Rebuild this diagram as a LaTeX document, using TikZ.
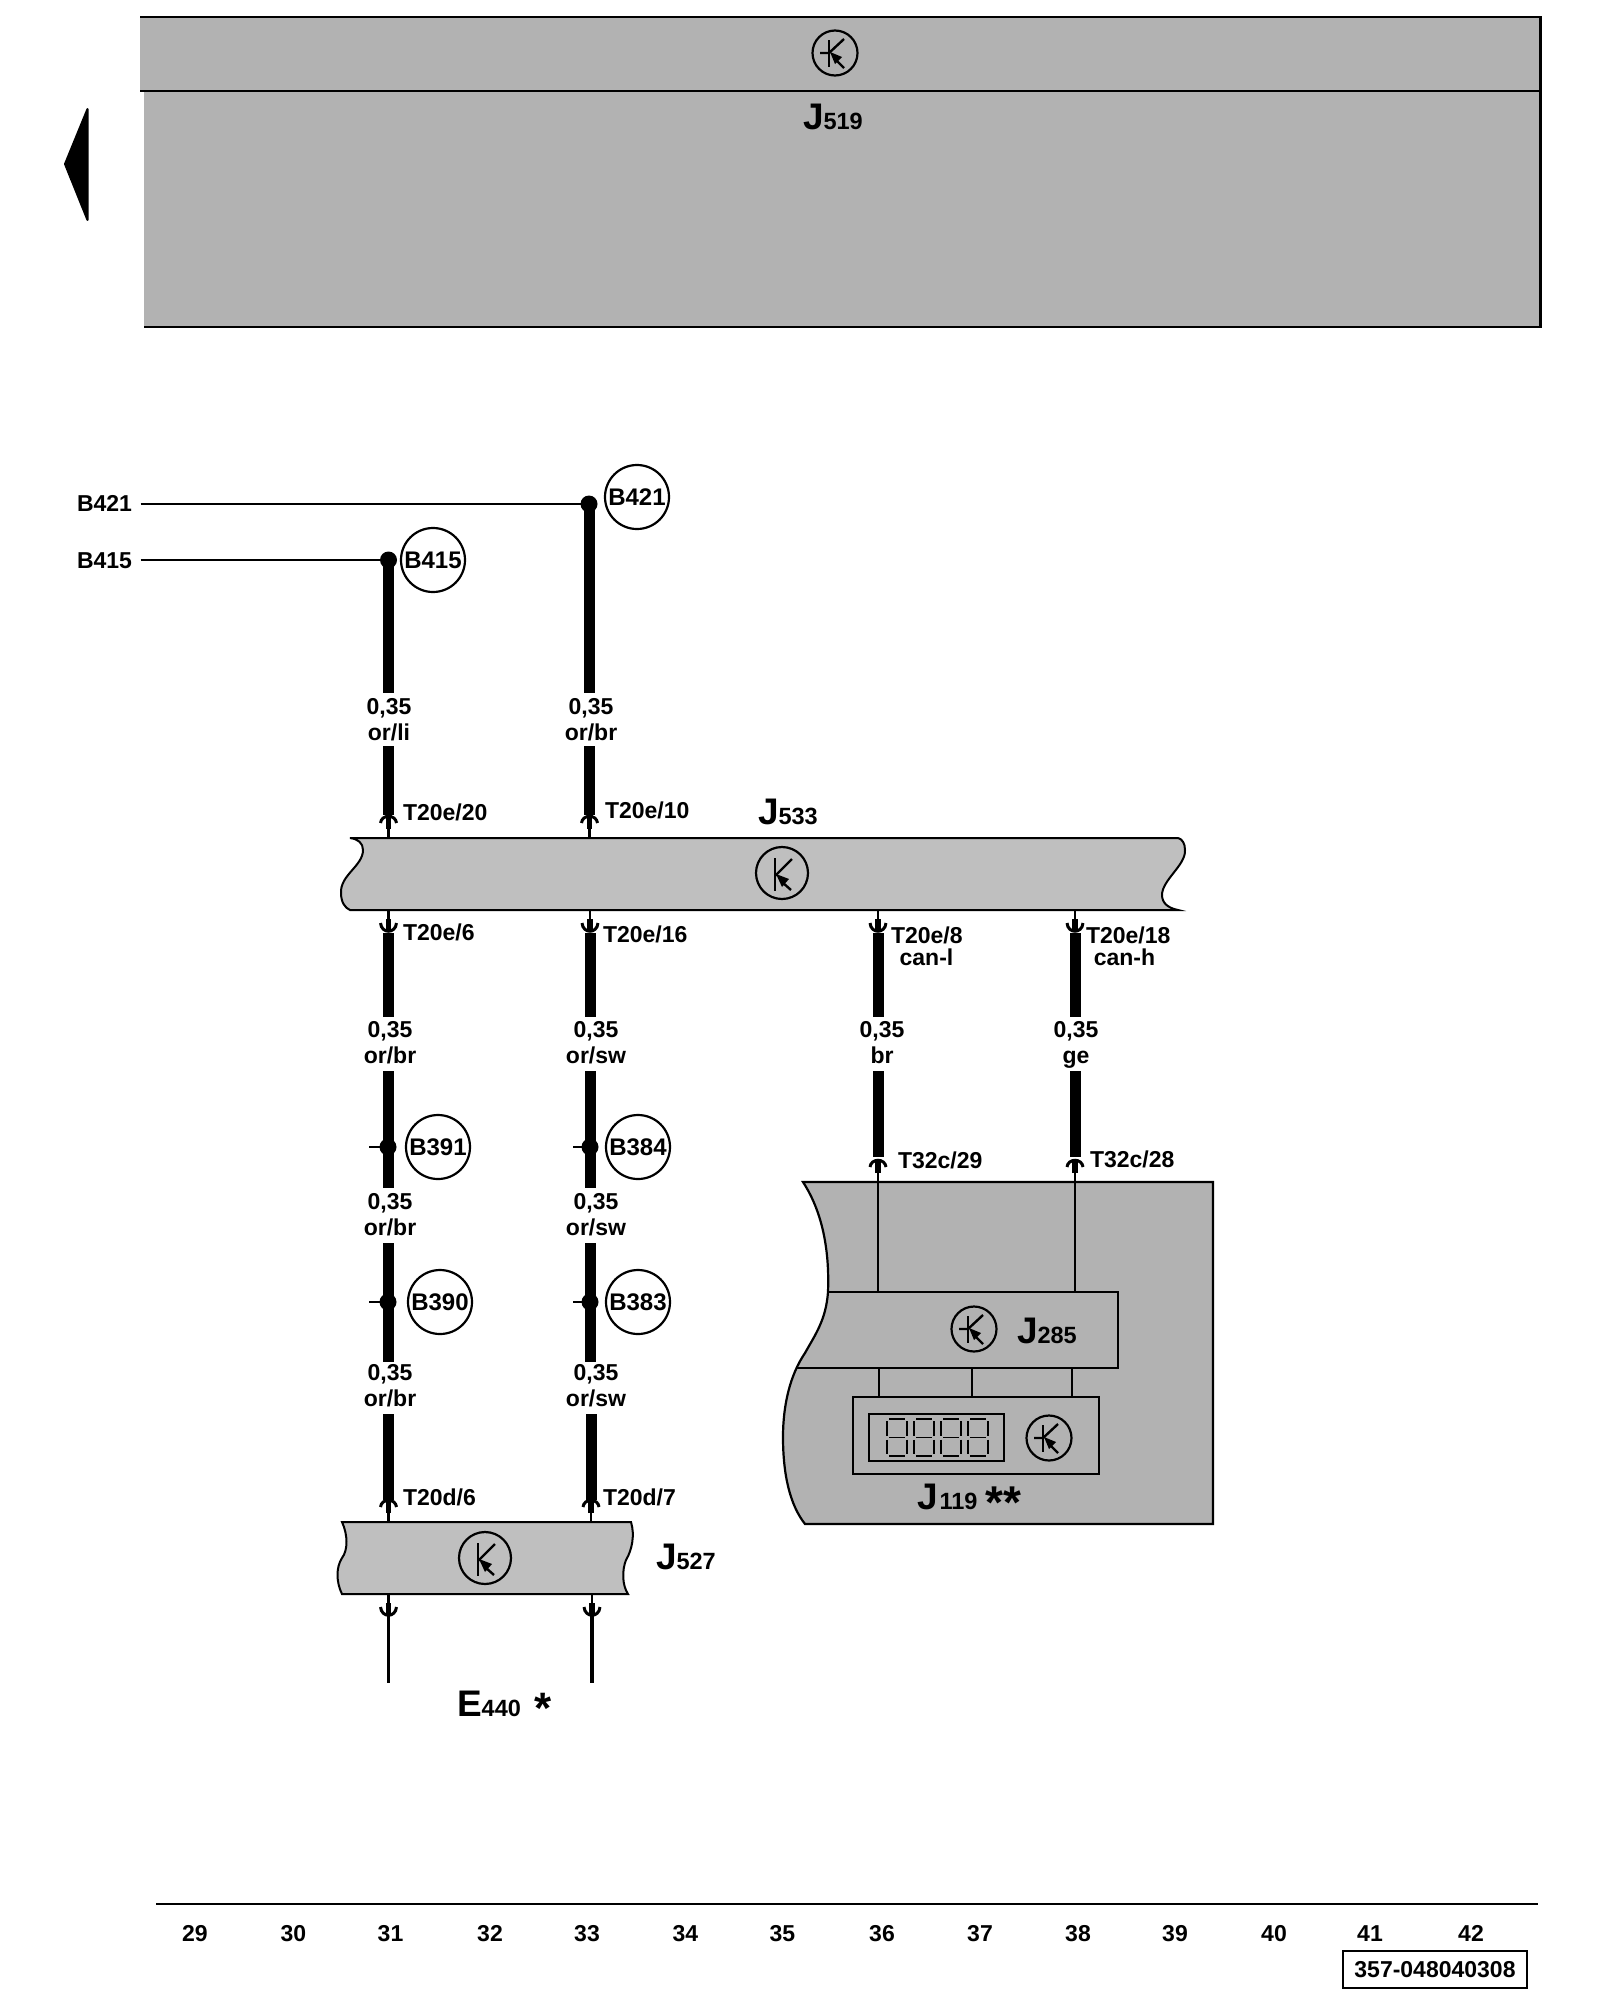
\documentclass[tikz,border=0pt]{standalone}
\usepackage{fontspec}
\setmainfont{Liberation Sans}
\newcommand{\fs}[1]{\fontsize{#1}{#1}\selectfont}
\tikzset{
  txt/.style={inner sep=0pt,outer sep=0pt,font=\bfseries\fs{23}},
  big/.style={inner sep=0pt,outer sep=0pt,font=\bfseries},
  ctrl/.style={draw=black,line width=2.2pt,circle,minimum size=#1,inner sep=0pt,outer sep=0pt},
  tag/.style={draw=black,line width=2.2pt,circle,minimum size=64pt,inner sep=0pt,outer sep=0pt,font=\bfseries\fs{24}},
  heavy/.style={line width=11pt,draw=black},
  thin wire/.style={line width=2.2pt,draw=black},
  rule line/.style={line width=2.4pt,draw=black},
  plugup/.pic={
    \draw[line width=2.2pt] (0,0)--(0,-11);
    \draw[line width=5.5pt] (0,-9)--(0,-20);
    \draw[line width=3pt] (-8,-15) .. controls (-7,-24) and (7,-24) .. (8,-15);
  },
  plugdown/.pic={
    \draw[line width=2.2pt] (0,0)--(0,11);
    \draw[line width=5.5pt] (0,9)--(0,21);
    \draw[line width=3pt] (-8,13) .. controls (-7,24) and (7,24) .. (8,13);
  },
  trans/.pic={
    \draw[line width=2.4pt] (-7,-15)--(-7,18);
    \draw[line width=2.4pt] (-7,3)--(10,-14);
    \draw[line width=2.4pt] (0,9)--(9,17);
    \fill (-6,1)--(7,6)--(0,14)--cycle;
  },
  transstub/.pic={
    \draw[line width=2.4pt] (-6,-13)--(-6,14);
    \draw[line width=2.4pt] (-15,0)--(-6,0)--(9,-14);
    \draw[line width=2.4pt] (1,7)--(9,15);
    \fill (-5,-1)--(7,4)--(0,11)--cycle;
  },
}
\newcommand{\gauge}[4]{% name, x, y, colour text
  \node[txt,anchor=base] (#1a) at (#2,#3) {0,35};
  \node[txt,anchor=base] (#1b) at (#2,#3+26.5) {#4};
}
\newcommand{\pinlabel}[4]{\node[txt,anchor=base west] (#1) at (#2,#3) {#4};}
\newcommand{\ident}[5]{% name,x,y,letter,digits
  \node[big,anchor=base west] (#1) at (#2,#3) {{\fs{37}#4}{\fs{23.5}#5}};
}
\newcommand{\digitseg}[1]{% one seven-segment digit with left x
  \begin{scope}[shift={(#1,1419)},line width=1.4pt]
    \draw (2,0)--(18,0); \draw (2,18.5)--(18,18.5); \draw (2,37)--(18,37);
    \draw (0,2)--(0,16.5); \draw (20,2)--(20,16.5);
    \draw (0,20.5)--(0,35); \draw (20,20.5)--(20,35);
  \end{scope}
}
\begin{document}
\begin{tikzpicture}[x=1pt,y=-1pt]
\useasboundingbox (0,0) rectangle (1600,2000);
\fill[white] (0,0) rectangle (1600,2000);

% ---- J519 ----
\fill[fill=black!30] (140,17) rectangle (1540.5,91);
\fill[fill=black!30] (144,91) rectangle (1540.5,327);
\draw[rule line] (140,17)--(1540.5,17)--(1540.5,327)--(144,327);
\draw[rule line] (140,91)--(1540.5,91);
\node[ctrl=45pt] (c519) at (835,53) {};
\pic at (c519) {transstub};
\ident{l519}{803}{129}{J}{519}
\fill[draw=black,line width=2pt,line join=round] (87.5,109) -- (65,164) -- (87.5,220) -- cycle;

% ---- coordinates ----
\coordinate (j533a) at (388.5,838); \coordinate (j533b) at (589.5,838);
\coordinate (j533c) at (388.5,910); \coordinate (j533d) at (590,910);
\coordinate (j533e) at (878,910); \coordinate (j533f) at (1075,910);
\coordinate (boxa) at (878,1182); \coordinate (boxb) at (1075,1182);
\coordinate (j527a) at (388.5,1522); \coordinate (j527b) at (591,1522);
\coordinate (j527c) at (388.5,1594); \coordinate (j527d) at (592,1594);

% ---- J533 ----
\path[fill=black!25,draw=black,line width=2pt] (350,838)
  .. controls (358,839) and (363,843) .. (363,850)
  .. controls (363,866) and (340,875) .. (341,893)
  .. controls (341,902) and (345,908) .. (350,910)
  -- (1178,910)
  .. controls (1168,908) and (1162,903) .. (1162,895)
  .. controls (1162,880) and (1186,865) .. (1185,850)
  .. controls (1185,843) and (1182,839) .. (1178,838)
  -- cycle;
\node[ctrl=52pt] (c533) at (782,873) {};
\pic at (c533) {trans};
\ident{l533}{758}{824}{J}{533}

% ---- J527 ----
\path[fill=black!25,draw=black,line width=2pt] (342,1522)
  .. controls (348,1535) and (348,1550) .. (342,1558)
  .. controls (336,1567) and (336,1582) .. (342,1594)
  -- (628,1594)
  .. controls (622,1585) and (622,1570) .. (626,1560)
  .. controls (632,1550) and (635,1535) .. (631,1522)
  -- cycle;
\node[ctrl=52pt] (c527) at (485,1558) {};
\pic at (c527) {trans};
\ident{l527}{656}{1569}{J}{527}

% ---- big right box ----
\path[fill=black!30,draw=black,line width=2.2pt] (803,1182)
  .. controls (818,1205) and (830,1240) .. (828,1292)
  .. controls (826,1320) and (815,1335) .. (805,1353)
  .. controls (790,1375) and (783,1405) .. (783,1437)
  .. controls (783,1475) and (790,1505) .. (805,1524)
  -- (1213,1524) -- (1213,1182) -- cycle;
\path[draw=black,line width=2.2pt] (828,1292) -- (1118,1292) -- (1118,1368) -- (797,1368);
\node[ctrl=45pt] (c285) at (974,1329) {};
\pic at (c285) {transstub};
\ident{l285}{1017}{1343}{J}{285}
\node[draw=black,line width=2.2pt,minimum width=246pt,minimum height=77pt,inner sep=0pt,outer sep=0pt] (j119) at (976,1435.5) {};
\node[draw=black,line width=2.2pt,minimum width=135pt,minimum height=47pt,inner sep=0pt,outer sep=0pt] (disp) at (936.5,1437.5) {};
\digitseg{887}\digitseg{914}\digitseg{941}\digitseg{968}
\node[ctrl=45pt] (c119) at (1049,1438) {};
\pic at (c119) {transstub};
\node[big,anchor=base west] (l119) at (917,1509) {{\fs{37}J}{\fs{23.5}\kern2pt 119}};
\node[big,anchor=center,font=\bfseries\fs{46}] (stars) at (1003,1503) {**};
\coordinate (a285) at (879,1368); \coordinate (b285) at (972,1368); \coordinate (c285b) at (1072,1368);
\draw[thin wire] (a285)--(a285 |- j119.north);
\draw[thin wire] (b285)--(b285 |- j119.north);
\draw[thin wire] (c285b)--(c285b |- j119.north);
\coordinate (t285a) at (878,1292); \coordinate (t285b) at (1075,1292);
\draw[thin wire] (t285a)--(boxa);
\draw[thin wire] (t285b)--(boxb);

% ---- splices and tags ----
\coordinate (d421) at (589,504); \coordinate (d415) at (388.5,560);
\coordinate (d391) at (388,1147); \coordinate (d384) at (590,1147);
\coordinate (d390) at (388,1302); \coordinate (d383) at (590,1302);
\coordinate (s391) at (369,1147); \coordinate (s384) at (573,1147);
\coordinate (s390) at (369,1302); \coordinate (s383) at (573,1302);
\node[tag] (t421) at (637,497) {B421};
\node[tag] (t415) at (433,560) {B415};
\node[tag] (t391) at (438,1147) {B391};
\node[tag] (t384) at (638,1147) {B384};
\node[tag] (t390) at (440,1302) {B390};
\node[tag] (t383) at (638,1302) {B383};

\node[txt,anchor=base west] (n421) at (77,511) {B421};
\node[txt,anchor=base west] (n415) at (77,568) {B415};
\draw[thin wire] (140.5,504) -- (d421);
\draw[thin wire] (140.5,560) -- (d415);

% ---- gauges ----
\gauge{g1}{389}{714}{or/li}
\gauge{g2}{591}{714}{or/br}
\gauge{g3}{390}{1037}{or/br}
\gauge{g4}{596}{1037}{or/sw}
\gauge{g5}{882}{1037}{br}
\gauge{g6}{1076}{1037}{ge}
\gauge{g7}{390}{1209}{or/br}
\gauge{g8}{596}{1209}{or/sw}
\gauge{g9}{390}{1380}{or/br}
\gauge{g10}{596}{1380}{or/sw}

% ---- thick wires ----
\draw[heavy] (d415) -- (388.5,693);
\draw[heavy] (d421) -- (589,693);
\draw[heavy] (388.5,746) -- (388.5,815);
\draw[heavy] (589,746) -- (589,815);
\draw[heavy] (388.5,933) -- (388.5,1017);
\draw[heavy] (590,933) -- (590,1017);
\draw[heavy] (878,933) -- (878,1017);
\draw[heavy] (1075,933) -- (1075,1017);
\draw[heavy] (878,1071) -- (878,1157);
\draw[heavy] (1075,1071) -- (1075,1157);
\draw[heavy] (388.5,1071) -- (388.5,1188);
\draw[heavy] (590,1071) -- (590,1188);
\draw[heavy] (388.5,1243) -- (388.5,1362);
\draw[heavy] (590,1243) -- (590,1362);
\draw[heavy] (388.5,1414) -- (388.5,1500);
\draw[heavy] (591,1414) -- (591,1500);

\foreach \d in {d421,d415,d391,d384,d390,d383} \fill (\d) circle (8.5);
\draw[thin wire] (s391)--(d391);
\draw[thin wire] (s384)--(d384);
\draw[thin wire] (s390)--(d390);
\draw[thin wire] (s383)--(d383);

% ---- plugs ----
\pic at (j533a) {plugup}; \pic at (j533b) {plugup};
\pic at (j533c) {plugdown}; \pic at (j533d) {plugdown};
\pic at (j533e) {plugdown}; \pic at (j533f) {plugdown};
\pic at (boxa) {plugup}; \pic at (boxb) {plugup};
\pic at (j527a) {plugup}; \pic at (j527b) {plugup};
\pic at (j527c) {plugdown}; \pic at (j527d) {plugdown};
\coordinate (e1) at (388.5,1683); \coordinate (e2) at (592,1683);
\draw[line width=3.5pt] (388.5,1612)--(e1);
\draw[line width=3.5pt] (592,1612)--(e2);

% ---- pin labels ----
\pinlabel{p1}{403}{820}{T20e/20}
\pinlabel{p2}{605}{818}{T20e/10}
\pinlabel{p3}{403}{940}{T20e/6}
\pinlabel{p4}{603}{942}{T20e/16}
\pinlabel{p5}{891}{943}{T20e/8}
\pinlabel{p6}{1086}{943}{T20e/18}
\node[txt,anchor=base] (p7) at (926.5,965) {can-l};
\node[txt,anchor=base] (p8) at (1124.5,965) {can-h};
\pinlabel{p9}{898}{1168}{T32c/29}
\pinlabel{p10}{1090}{1167}{T32c/28}
\pinlabel{p11}{403}{1505}{T20d/6}
\pinlabel{p12}{603}{1505}{T20d/7}

\ident{l440}{457}{1716}{E}{440}
\node[anchor=center,font=\bfseries\fs{44}] (star) at (543,1708) {*};

% ---- footer ----
\coordinate (fa) at (156,1904); \coordinate (fb) at (1538,1904);
\draw[rule line] (fa)--(fb);
\foreach \n/\x in {29/195,30/293.5,31/390.5,32/490,33/587,34/685.4,35/782.4,36/882,37/980,38/1078,39/1175,40/1274,41/1370,42/1471}
  \node[txt,anchor=base] (f\n) at (\x,1941) {\n};
\node[txt,draw=black,line width=2.2pt,minimum width=184pt,minimum height=37pt,outer sep=0pt] (code) at (1435,1969.5) {357-048040308};
\end{tikzpicture}
\end{document}
